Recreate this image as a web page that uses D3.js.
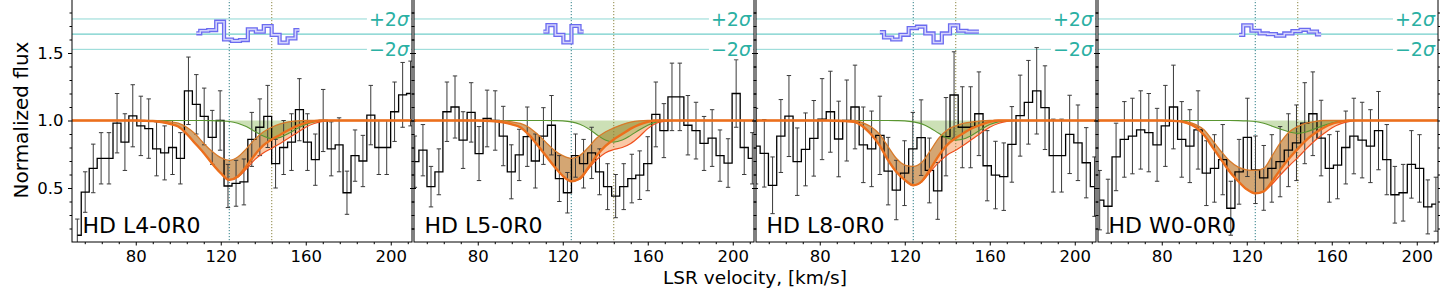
<!DOCTYPE html>
<html><head><meta charset="utf-8">
<script src="https://cdn.jsdelivr.net/npm/d3@7"></script>
<style>
body{margin:0;background:#fff}
svg{display:block}
text{font-family:"DejaVu Sans",sans-serif}
</style>
</head><body>
<svg id="c" width="1440" height="288"></svg>
<script>
// ---------- data ----------
const panelNames = ["HD L4-0R0","HD L5-0R0","HD L8-0R0","HD W0-0R0"];
const xTicks = [80,120,160,200];
const xMinorTicks = [56,64,72,88,96,104,112,128,136,144,152,168,176,184,192,208];
const yTicks = [0.5,1.0,1.5];
const yMinorTicks = [0.2,0.3,0.4,0.6,0.7,0.8,0.9,1.1,1.2,1.3,1.4,1.6,1.7,1.8];
const lineMarks = [124,144];
const residCenter = 1.64, residPlus = 1.752, residMinus = 1.527;

// panel 1 : L4-0R0
const vel1 = [52.5,56.2,60.0,63.7,67.4,71.2,74.9,78.6,82.4,86.1,89.8,93.6,97.3,101.0,104.8,108.5,112.2,116.0,119.7,123.4,127.2,130.9,134.6,138.4,142.1,145.8,149.6,153.3,157.0,160.8,164.5,168.2,172.0,175.7,179.4,183.2,186.9,190.6,194.4,198.1,201.8,205.6,209.3];
const flux1 = [0.15,0.47,0.645,0.72,0.72,0.98,0.84,1.035,0.96,0.94,0.79,0.76,0.80,0.72,1.22,1.12,1.03,0.875,1.0,0.515,0.535,0.545,0.86,0.95,1.03,0.68,0.80,0.84,1.08,0.84,0.71,1.0,0.79,0.82,0.465,0.74,0.70,1.04,0.80,0.80,1.065,1.19,1.2];
const err1 = [0.12,0.15,0.18,0.19,0.19,0.22,0.21,0.23,0.22,0.22,0.2,0.2,0.2,0.19,0.25,0.22,0.21,0.2,0.22,0.16,0.17,0.17,0.2,0.21,0.23,0.18,0.2,0.21,0.23,0.21,0.19,0.23,0.2,0.2,0.16,0.19,0.19,0.22,0.2,0.2,0.22,0.24,0.24];
const resVel1 = [108.5,112.2,116.0,119.7,123.4,127.2,130.9,134.6,138.4,142.1,145.8,149.6,153.3,157.0];
const res1 = [1.646,1.665,1.67,1.732,1.60,1.59,1.596,1.675,1.658,1.70,1.634,1.577,1.608,1.67];

// panel 2 : L5-0R0
const vel2 = [50.4,54.2,58.0,61.7,65.5,69.3,73.1,76.9,80.6,84.4,88.2,92.0,95.8,99.5,103.3,107.1,110.9,114.7,118.4,122.2,126.0,129.8,133.6,137.3,141.1,144.9,148.7,152.5,156.2,160.0,163.8,167.6,171.4,175.1,178.9,182.7,186.5,190.3,194.0,197.8,201.6,205.4,209.2];
const flux2 = [0.695,0.78,0.51,0.62,1.065,1.10,0.855,1.06,0.755,1.015,1.0,0.885,0.62,0.745,0.88,0.70,0.885,0.965,0.57,0.465,0.74,0.68,0.76,0.62,0.51,0.44,0.51,0.57,0.595,0.68,1.045,0.925,1.175,1.175,0.965,0.925,0.83,0.87,0.74,0.685,1.20,0.80,0.72];
const err2 = [0.19,0.19,0.15,0.17,0.22,0.23,0.21,0.22,0.2,0.21,0.22,0.22,0.2,0.19,0.22,0.2,0.21,0.22,0.17,0.15,0.16,0.18,0.19,0.17,0.17,0.16,0.17,0.18,0.18,0.2,0.24,0.2,0.25,0.25,0.22,0.21,0.2,0.21,0.19,0.18,0.25,0.2,0.19];
const resVel2 = [110.9,114.7,118.4,122.2,126.0,129.8];
const res2 = [1.658,1.707,1.634,1.578,1.70,1.658];

// panel 3 : L8-0R0
const vel3 = [50.0,53.9,57.8,61.7,65.5,69.4,73.3,77.2,81.1,85.0,88.9,92.7,96.6,100.5,104.4,108.3,112.2,116.0,119.9,123.8,127.7,131.6,135.5,139.4,143.2,147.1,151.0,154.9,158.8,162.7,166.6,170.4,174.3,178.2,182.1,186.0,189.9,193.8,197.6,201.5,205.4,209.3];
const flux3 = [0.81,0.757,0.52,0.885,1.033,0.695,0.786,0.868,1.01,1.065,0.863,1.0,1.10,0.82,0.79,0.89,0.625,0.485,0.61,0.79,0.873,0.63,0.478,0.88,1.189,0.95,0.95,1.05,0.665,0.596,0.584,0.823,1.036,1.135,1.22,1.095,0.74,0.74,0.897,0.835,0.687,0.51];
const err3 = [0.28,0.25,0.21,0.27,0.3,0.25,0.27,0.28,0.3,0.3,0.28,0.3,0.31,0.28,0.28,0.29,0.25,0.22,0.24,0.27,0.28,0.24,0.21,0.29,0.32,0.3,0.3,0.31,0.26,0.25,0.25,0.28,0.3,0.31,0.32,0.31,0.27,0.27,0.29,0.28,0.26,0.22];
const resVel3 = [108.3,112.2,116.0,119.9,123.8,127.7,131.6,135.5,139.4,143.2,147.1,151.0,154.9];
const res3 = [1.655,1.615,1.60,1.635,1.685,1.695,1.645,1.578,1.645,1.705,1.665,1.658,1.658];

// panel 4 : W0-0R0
const vel4 = [50.8,54.7,58.5,62.4,66.2,70.1,73.9,77.8,81.7,85.5,89.4,93.2,97.1,101.0,104.8,108.7,112.5,116.4,120.3,124.1,128.0,131.8,135.7,139.6,143.4,147.3,151.1,155.0,158.9,162.7,166.6,170.4,174.3,178.2,182.0,185.9,189.7,193.6,197.5,201.3,205.2,209.0];
const flux4 = [0.41,0.365,0.73,0.86,0.885,0.93,0.91,0.82,0.96,1.10,0.86,0.81,0.93,0.61,0.645,0.71,0.35,0.62,0.875,0.635,0.575,0.645,0.695,0.78,0.835,0.98,1.05,0.87,0.645,0.67,0.80,0.885,0.855,0.81,0.925,0.71,0.45,0.465,0.675,0.645,0.36,0.38];
const err4 = [0.22,0.2,0.25,0.28,0.28,0.29,0.29,0.27,0.3,0.31,0.28,0.27,0.29,0.24,0.25,0.26,0.2,0.24,0.29,0.25,0.24,0.25,0.26,0.27,0.28,0.3,0.31,0.28,0.25,0.25,0.27,0.28,0.28,0.27,0.29,0.26,0.21,0.21,0.25,0.25,0.2,0.2];
const resVel4 = [116.4,120.3,124.1,128.0,131.8,135.7,139.6,143.4,147.3,151.1,155.0];
const res4 = [1.634,1.705,1.665,1.645,1.64,1.628,1.645,1.662,1.672,1.658,1.638];

// model profiles
const modelVel = [50,80,84,88,92,96,100,104,108,112,116,120,124,128,132,136,140,144,148,152,156,160,164,168,172,176,210];
const up1  = [1,1,1,1,.997,.99,.98,.95,.90,.83,.77,.725,.705,.73,.79,.86,.915,.95,.975,.99,.997,1,1,1,1,1,1];
const mid1 = [1,1,.998,.995,.988,.975,.955,.90,.83,.76,.68,.61,.56,.585,.66,.745,.815,.86,.895,.93,.96,.982,.995,1,1,1,1];
const low1 = [1,1,.998,.995,.988,.975,.955,.90,.83,.76,.68,.61,.56,.58,.64,.71,.76,.795,.83,.87,.91,.95,.978,.993,1,1,1];
const grn1 = [1,1,1,1,1,1,1,1,1,1,.999,.997,.993,.98,.955,.92,.885,.865,.875,.905,.94,.97,.99,.998,1,1,1];

const up2  = [1,1,1,1,.997,.99,.978,.95,.90,.84,.78,.74,.72,.74,.80,.87,.915,.945,.97,.988,.997,1,1,1,1,1,1];
const mid2 = [1,1,.998,.994,.986,.972,.95,.895,.82,.74,.66,.59,.55,.57,.65,.74,.81,.86,.90,.94,.97,.99,1,1,1,1,1];
const low2 = [1,1,.998,.994,.986,.972,.95,.895,.82,.74,.66,.59,.55,.565,.64,.71,.76,.785,.80,.83,.88,.94,.98,.995,1,1,1];
const grn2 = [1,1,1,1,1,1,1,1,1,1,.999,.997,.99,.972,.94,.895,.855,.84,.855,.89,.93,.965,.988,.998,1,1,1];

const up3  = [1,1,1,1,1,1,.985,.955,.90,.81,.72,.67,.66,.69,.775,.87,.93,.96,.98,.99,.997,1,1,1,1,1,1];
const mid3 = [1,1,1,.998,.995,.99,.96,.90,.82,.71,.62,.56,.52,.55,.64,.74,.82,.87,.91,.945,.97,.99,1,1,1,1,1];
const low3 = [1,1,1,.998,.995,.99,.96,.90,.82,.71,.62,.56,.52,.545,.62,.69,.745,.78,.82,.865,.91,.95,.978,.993,1,1,1];
const grn3 = [1,1,1,1,1,1,1,1,1,1,.999,.997,.99,.975,.945,.905,.87,.855,.865,.895,.935,.97,.99,.998,1,1,1];

const up4  = [1,1,1,.998,.99,.97,.93,.85,.77,.70,.655,.635,.63,.645,.74,.84,.915,.955,.98,.992,1,1,1,1,1,1,1];
const mid4 = [1,1,.998,.995,.98,.95,.89,.80,.71,.62,.55,.49,.46,.475,.55,.64,.72,.79,.855,.905,.945,.975,.99,1,1,1,1];
const low4 = [1,1,.998,.995,.98,.95,.89,.80,.71,.62,.55,.49,.46,.475,.53,.60,.665,.725,.79,.85,.90,.945,.975,.992,1,1,1];
const grn4 = [1,1,1,1,1,1,1,1,1,1,.999,.997,.993,.98,.958,.935,.915,.905,.915,.938,.962,.982,.994,1,1,1,1];

const panels = [
  {name:panelNames[0], v:vel1, f:flux1, e:err1, rv:resVel1, r:res1, U:up1, M:mid1, L:low1, G:grn1},
  {name:panelNames[1], v:vel2, f:flux2, e:err2, rv:resVel2, r:res2, U:up2, M:mid2, L:low2, G:grn2},
  {name:panelNames[2], v:vel3, f:flux3, e:err3, rv:resVel3, r:res3, U:up3, M:mid3, L:low3, G:grn3},
  {name:panelNames[3], v:vel4, f:flux4, e:err4, rv:resVel4, r:res4, U:up4, M:mid4, L:low4, G:grn4}
];

// ---------- drawing ----------
const svg = d3.select("#c");
const PW = 340, STEP = 342, LEFT0 = 72, TOP = -1, BOTTOM = 242;
const y = d3.scaleLinear().domain([0.1,1.9]).range([BOTTOM,TOP]);
const FONT = "'DejaVu Sans', sans-serif";

panels.forEach((p,i)=>{
  const x0 = LEFT0 + STEP*i;
  const x = d3.scaleLinear().domain([50,210]).range([x0,x0+PW]);
  const g = svg.append("g");
  const cid = "clip"+i;
  svg.append("clipPath").attr("id",cid).append("rect")
     .attr("x",x0).attr("y",TOP).attr("width",PW).attr("height",BOTTOM-TOP);
  const cg = g.append("g").attr("clip-path",`url(#${cid})`);

  // residual reference lines
  [[residPlus,0.5],[residCenter,0.8],[residMinus,0.5]].forEach(([val,op])=>{
    cg.append("line").attr("x1",x0).attr("x2",x0+PW)
      .attr("y1",y(val)).attr("y2",y(val))
      .attr("stroke","#20b2aa").attr("stroke-opacity",op).attr("stroke-width",1);
  });

  const mv = modelVel;
  const idx = d3.range(mv.length);
  const area = (a,b)=>d3.area().x(k=>x(mv[k])).y0(k=>y(a[k])).y1(k=>y(b[k])).curve(d3.curveMonotoneX);
  const line = (a)=>d3.line().x(k=>x(mv[k])).y(k=>y(a[k])).curve(d3.curveMonotoneX);
  const ones = mv.map(()=>1);

  // fills
  cg.append("path").attr("d",area(p.M,p.L)(idx)).attr("fill","#fac8a6").attr("stroke","none");
  cg.append("path").attr("d",area(p.U,p.M)(idx)).attr("fill","#cf9c64").attr("fill-opacity",0.9).attr("stroke","none");
  cg.append("path").attr("d",area(ones,p.G)(idx)).attr("fill","#78ae3e").attr("fill-opacity",0.38).attr("stroke","none");

  // vertical line markers
  cg.append("line").attr("x1",x(lineMarks[0])).attr("x2",x(lineMarks[0])).attr("y1",TOP).attr("y2",BOTTOM)
    .attr("stroke","#2f7f86").attr("stroke-width",1).attr("stroke-dasharray","1.2,1.8");
  cg.append("line").attr("x1",x(lineMarks[1])).attr("x2",x(lineMarks[1])).attr("y1",TOP).attr("y2",BOTTOM)
    .attr("stroke","#8a8540").attr("stroke-width",1).attr("stroke-dasharray","1.2,1.8");

  // data: error bars
  const eb = cg.append("g").attr("stroke","#3a3a3a").attr("stroke-width",1);
  p.v.forEach((v,k)=>{
    const xx = x(v), yt = y(p.f[k]+p.e[k]), yb = y(p.f[k]-p.e[k]);
    eb.append("line").attr("x1",xx).attr("x2",xx).attr("y1",yt).attr("y2",yb);
    eb.append("line").attr("x1",xx-2.2).attr("x2",xx+2.2).attr("y1",yt).attr("y2",yt);
    eb.append("line").attr("x1",xx-2.2).attr("x2",xx+2.2).attr("y1",yb).attr("y2",yb);
  });
  // data: step histogram
  cg.append("path")
    .attr("d", d3.line().x(k=>x(p.v[k])).y(k=>y(p.f[k])).curve(d3.curveStep)(d3.range(p.v.length)))
    .attr("fill","none").attr("stroke","#000").attr("stroke-width",1.3);

  // model lines
  cg.append("path").attr("d",line(p.G)(idx)).attr("fill","none").attr("stroke","#5a9631").attr("stroke-width",1.1);
  cg.append("path").attr("d",line(p.L)(idx)).attr("fill","none").attr("stroke","#f0501e").attr("stroke-width",1.2);
  cg.append("path").attr("d",line(p.U)(idx)).attr("fill","none").attr("stroke","#d77a2a").attr("stroke-width",1.3);
  cg.append("path").attr("d",line(p.M)(idx)).attr("fill","none").attr("stroke","#ec6f1c").attr("stroke-width",2.4);

  // residuals
  const rl = d3.line().x(k=>x(p.rv[k])).y(k=>y(p.r[k])).curve(d3.curveStep)(d3.range(p.rv.length));
  cg.append("path").attr("d",rl).attr("fill","none").attr("stroke","#6b6bf0").attr("stroke-width",4.2);
  cg.append("path").attr("d",rl).attr("fill","none").attr("stroke","#d4d4fb").attr("stroke-width",1.6);

  // +2σ / −2σ labels
  [["+2",residPlus],["\u22122",residMinus]].forEach(([s,val])=>{
    const t = g.append("text").attr("x",x0+PW-3).attr("y",y(val)).attr("dy","0.36em")
      .attr("text-anchor","end").attr("font-size",19).style("font-size","19px").style("font-family",FONT).attr("fill","#2ab0a3");
    t.append("tspan").text(s);
    t.append("tspan").attr("font-style","italic").text("\u03c3");
    const bb = t.node().getBBox();
    g.insert("rect", function(){return t.node();})
      .attr("x",bb.x-2).attr("y",bb.y+1).attr("width",bb.width+3).attr("height",bb.height-2)
      .attr("fill","#fff");
  });

  // panel label
  g.append("text").attr("x",x0+10.5).attr("y",232.5).attr("font-size",22).style("font-size","22px").style("font-family",FONT)
    .attr("fill","#000").text(p.name);

  // axes
  const xa = g.append("g").attr("transform",`translate(0,${BOTTOM})`)
    .call(d3.axisBottom(x).tickValues(xTicks).tickSize(3.5).tickPadding(5.2).tickFormat(d3.format("d")));
  xa.attr("font-size",16.5).attr("font-family",FONT);
  xa.selectAll("text").attr("font-size",16.5).style("font-size","16.5px").style("font-family",FONT).attr("fill","#000");
  const xm = g.append("g").attr("transform",`translate(0,${BOTTOM})`)
    .call(d3.axisBottom(x).tickValues(xMinorTicks).tickSize(2.2).tickFormat(""));
  const yl = g.append("g").attr("transform",`translate(${x0},0)`)
    .call(d3.axisLeft(y).tickValues(yTicks).tickSize(4).tickPadding(4.5).tickFormat(i===0?d3.format(".1f"):()=>""));
  yl.attr("font-size",16.5).attr("font-family",FONT);
  yl.selectAll("text").attr("font-size",16.5).style("font-size","16.5px").style("font-family",FONT).attr("fill","#000");
  const ylm = g.append("g").attr("transform",`translate(${x0},0)`)
    .call(d3.axisLeft(y).tickValues(yMinorTicks).tickSize(2.5).tickFormat(""));
  const yr = g.append("g").attr("transform",`translate(${x0+PW},0)`)
    .call(d3.axisRight(y).tickValues(yTicks).tickSize(4).tickFormat(""));
  const yrm = g.append("g").attr("transform",`translate(${x0+PW},0)`)
    .call(d3.axisRight(y).tickValues(yMinorTicks).tickSize(2.5).tickFormat(""));
  [xa,xm,yl,ylm,yr,yrm].forEach(a=>{a.select(".domain").remove(); a.selectAll("line").attr("stroke","#000");});

  // frame
  g.append("rect").attr("x",x0).attr("y",TOP).attr("width",PW).attr("height",BOTTOM-TOP)
    .attr("fill","none").attr("stroke","#000").attr("stroke-width",1);
});

// axis titles
svg.append("text").attr("x",755).attr("y",283.6).attr("text-anchor","middle")
  .attr("font-size",18.5).style("font-size","18.5px").style("font-family",FONT).attr("fill","#000").text("LSR velocity, [km/s]");
svg.append("text").attr("transform","translate(28,120) rotate(-90)").attr("text-anchor","middle")
  .attr("font-size",20).style("font-size","20px").style("font-family",FONT).attr("fill","#000").text("Normalized flux");
</script>
</body></html>
